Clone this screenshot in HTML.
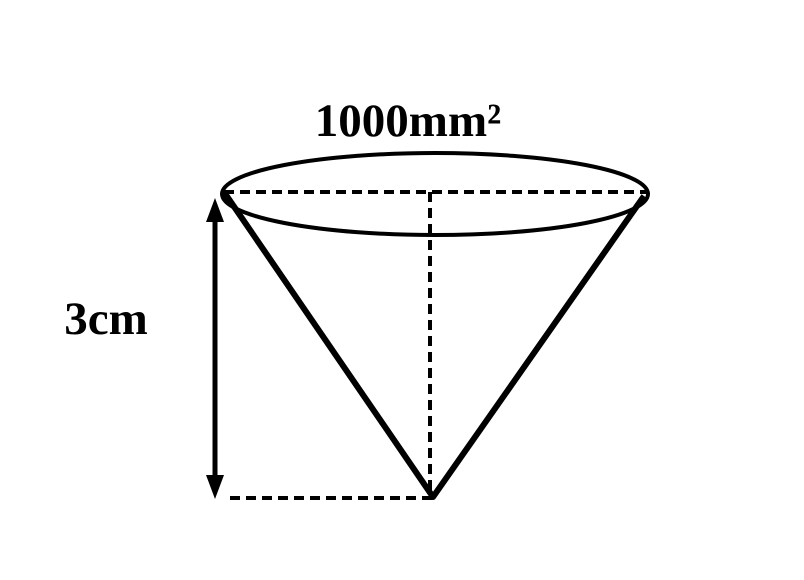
<!DOCTYPE html>
<html><head><meta charset="utf-8"><style>
html,body{margin:0;padding:0;background:#fff;}
svg{display:block;}
</style></head><body>
<svg width="804" height="580" viewBox="0 0 804 580" xmlns="http://www.w3.org/2000/svg">
<rect width="804" height="580" fill="#fff"/>
<text x="408" y="136" text-anchor="middle" font-family="Liberation Serif, serif" font-weight="bold" font-size="47" fill="#000">1000mm²</text>
<text x="106" y="334" text-anchor="middle" font-family="Liberation Serif, serif" font-weight="bold" font-size="47" fill="#000">3cm</text>
<ellipse cx="435" cy="194" rx="213" ry="41" fill="none" stroke="#000" stroke-width="4"/>
<polyline points="224,192 433,497 644,196" fill="none" stroke="#000" stroke-width="6" stroke-linejoin="round"/>
<line x1="224" y1="192" x2="646" y2="192" stroke="#000" stroke-width="4" stroke-dasharray="10,6"/>
<line x1="430" y1="192" x2="430" y2="497" stroke="#000" stroke-width="4" stroke-dasharray="10,6"/>
<line x1="230" y1="498" x2="432" y2="498" stroke="#000" stroke-width="4" stroke-dasharray="10,6"/>
<g>
<line x1="215" y1="215" x2="215" y2="482" stroke="#000" stroke-width="5"/>
<polygon points="215,198 206,222 224,222" fill="#000"/>
<polygon points="215,499 206,475 224,475" fill="#000"/>
</g>
</svg>
</body></html>
